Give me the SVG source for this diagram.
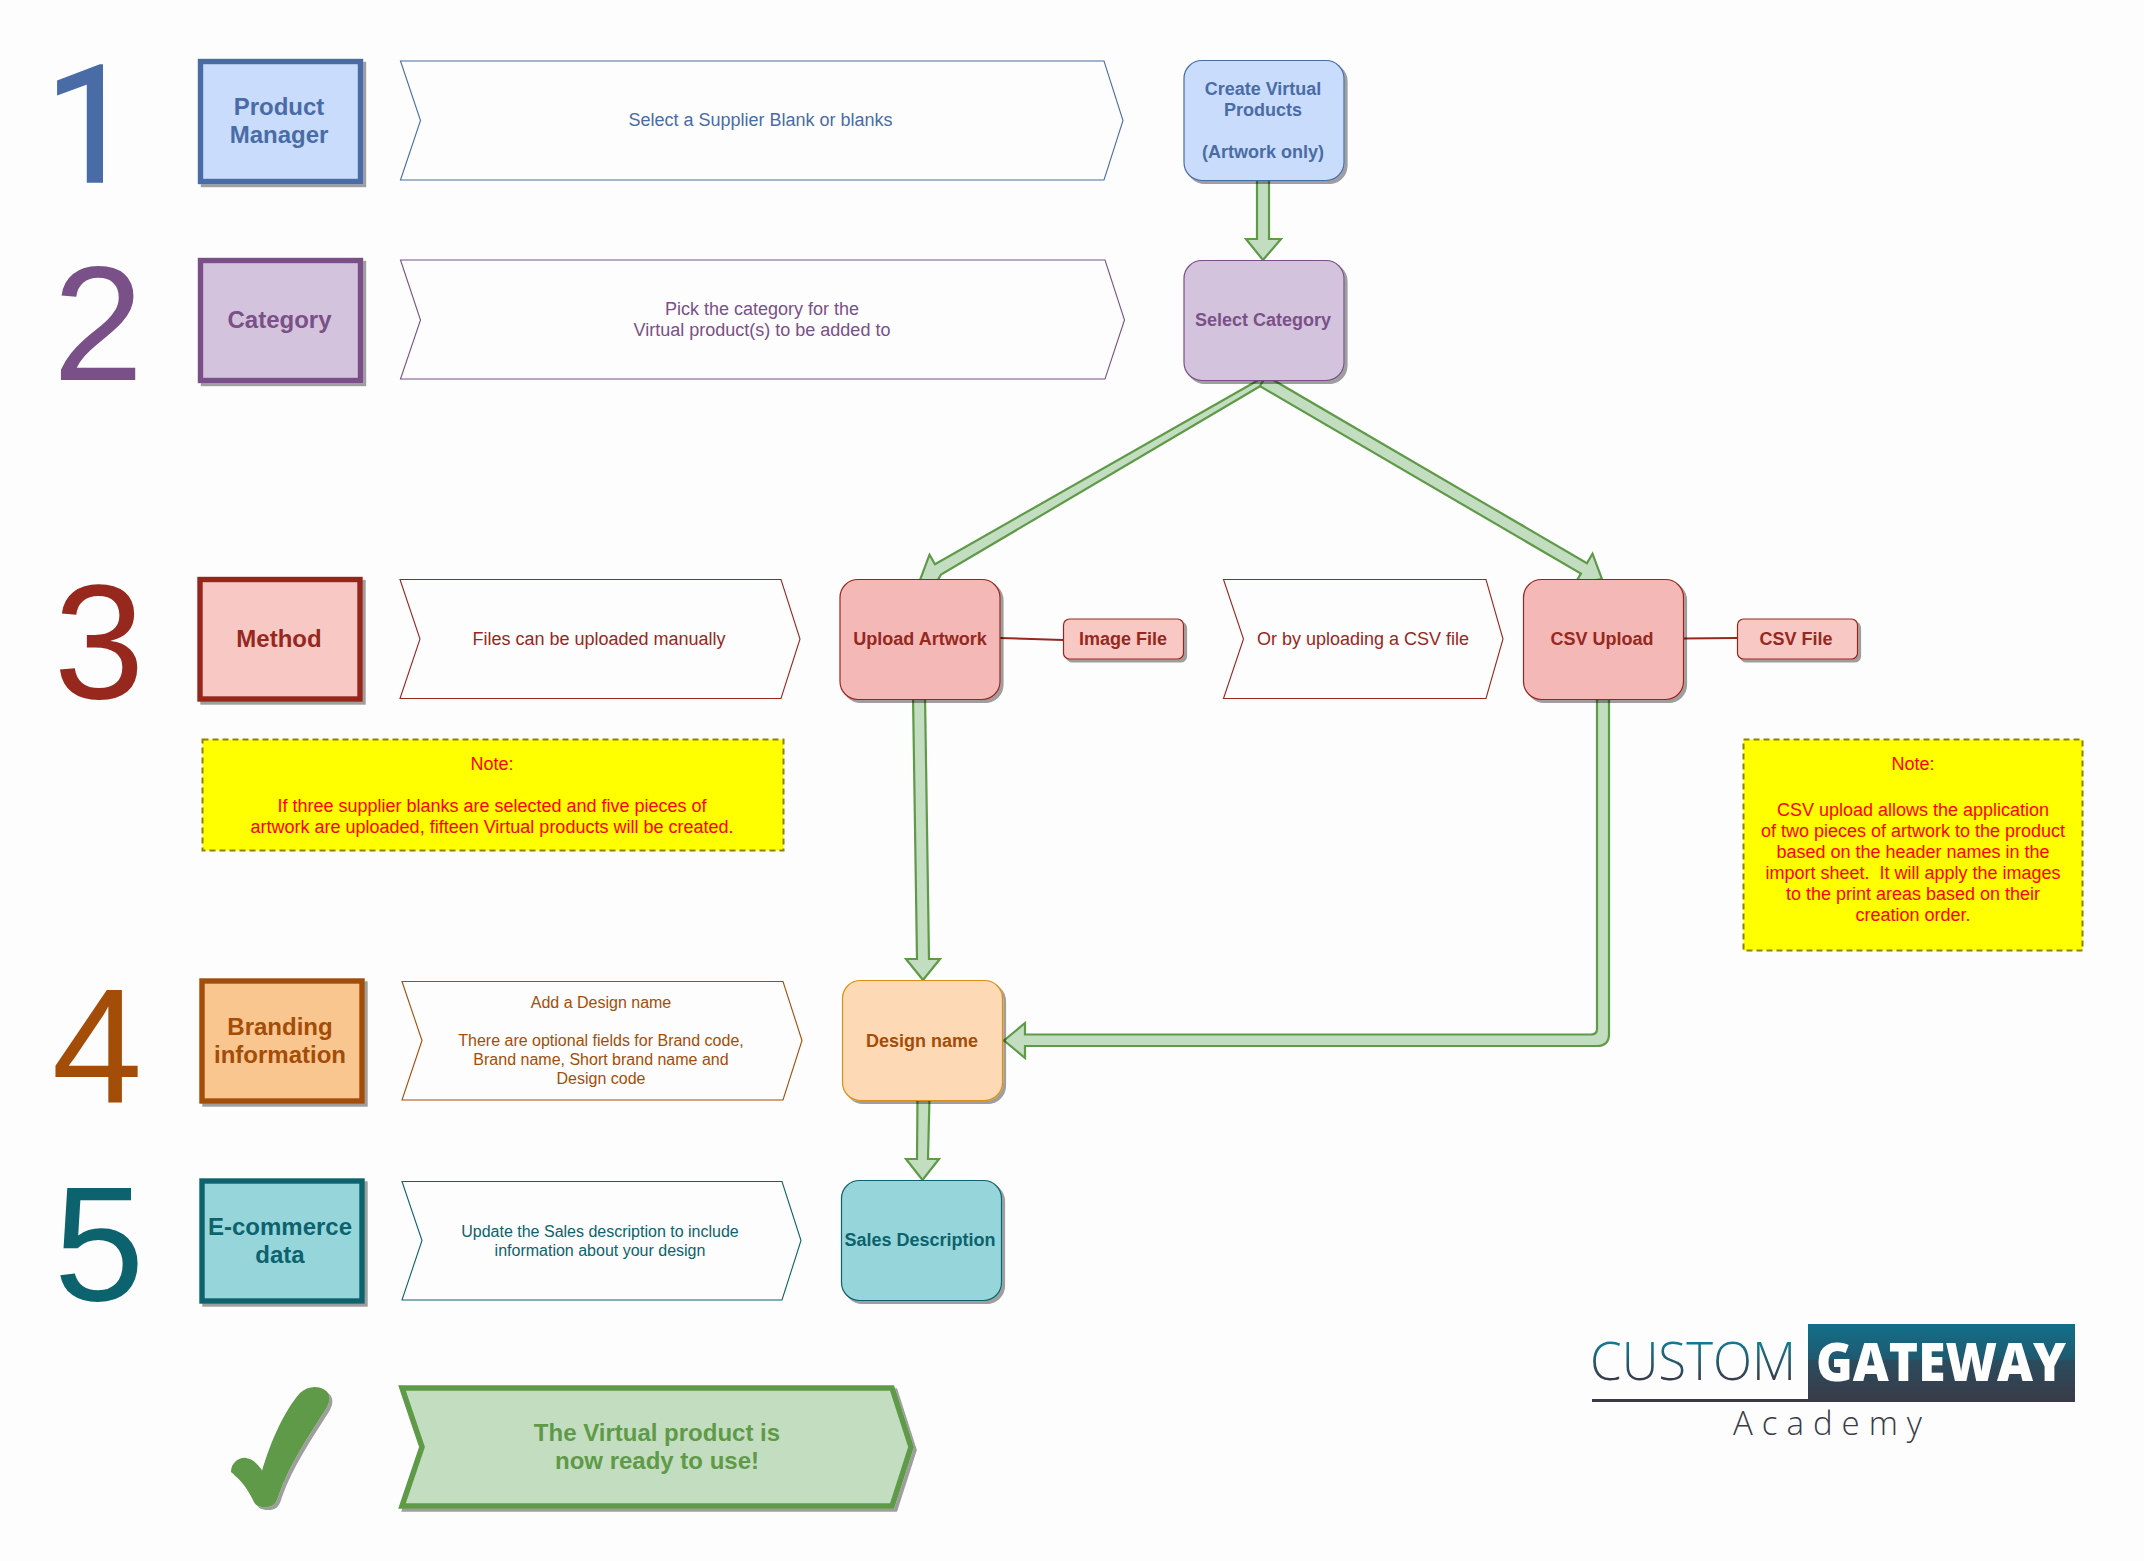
<svg xmlns="http://www.w3.org/2000/svg" width="2144" height="1561" viewBox="0 0 2144 1561">
<style>
text{font-family:"Liberation Sans",Arial,sans-serif;text-anchor:middle}
.b18{font-size:18px;font-weight:bold}.b24{font-size:24px;font-weight:bold}.t18{font-size:18px}.t16{font-size:16px}.n{font-size:18px;fill:#ff0000}
.d{font-size:163px}
.s{fill:#fdfdfd;stroke-width:1.1}
.sq{stroke-width:5.4}
.r{stroke-width:1.2}
.blue{fill:#4a6ca6}.purple{fill:#7a5088}.red{fill:#96281e}.orange{fill:#a34d08}.teal{fill:#0c626d}.green{fill:#5f9a48}
.note{fill:#ffff00;stroke:#8f8000;stroke-width:2;stroke-dasharray:6 4}
.a{fill:#c3ddc0;stroke:#5f9a48;stroke-width:2.2;stroke-linejoin:miter}
.l{fill:none;stroke:#96281e;stroke-width:2}
</style>
<defs>
<filter id="sh" x="-10%" y="-10%" width="125%" height="125%"><feGaussianBlur in="SourceAlpha" stdDeviation="0.7"/><feOffset dx="3" dy="3"/><feComponentTransfer result="o"><feFuncA type="linear" slope="0.38"/></feComponentTransfer><feMerge><feMergeNode in="o"/><feMergeNode in="SourceGraphic"/></feMerge></filter>
<linearGradient id="lg" gradientUnits="userSpaceOnUse" x1="0" y1="1324" x2="0" y2="1402"><stop offset="0" stop-color="#126f89"/><stop offset="0.45" stop-color="#1f5a70"/><stop offset="0.47" stop-color="#2a4c5e"/><stop offset="1" stop-color="#3a3a47"/></linearGradient>
<linearGradient id="lc" gradientUnits="userSpaceOnUse" x1="0" y1="1342" x2="0" y2="1381"><stop offset="0" stop-color="#127a94"/><stop offset="1" stop-color="#3a3a47"/></linearGradient>
</defs>
<rect width="2144" height="1561" fill="#fdfdfd"/>

<g id="connectors">
<polygon class="a" points="1257,175 1257,239 1246,239 1263,260 1281,239 1269,239 1269,175"/>
<polygon class="a" points="1260,386.2 941,574.6 935.3,584.1 920,580 929.5,554.7 935,564.2 1266,375.8"/>
<polygon class="a" points="1266,375.8 1586.9,563.2 1592.5,553.7 1602,579 1575.3,583.1 1580.9,573.6 1260,386.2"/>
<polygon class="a" points="913,695 917,959 906,959 923,980 940,959 929,959 925,695"/>
<path class="a" d="M1597 695V1029Q1597 1034.5 1591 1034.5H1025V1023L1004 1040.5L1025 1058V1046H1597Q1609 1046 1609 1034V695Z"/>
<polygon class="a" points="917.500,1097 917,1159 906,1159 922.500,1180 939,1159 928,1159 929.500,1097"/>
<line class="l" x1="1000" y1="638" x2="1063" y2="640"/>
<line class="l" x1="1683" y1="638.500" x2="1737" y2="638"/>
</g>

<g id="num1"><text class="d blue" x="90" y="182" stroke="#4a6ca6" stroke-width="1.5" style="font-family:Roboto,'Liberation Sans',sans-serif">1</text></g>
<g id="num2"><text class="d purple" x="98" y="380">2</text></g>
<g id="num3"><text class="d red" x="99" y="698">3</text></g>
<g id="num4"><text class="d orange" x="97" y="1102">4</text></g>
<g id="num5"><text class="d teal" x="99" y="1300">5</text></g>

<g id="productManager"><rect class="sq" x="200.500" y="61.500" width="160" height="120" fill="#c9dcfb" stroke="#4a6ca6" filter="url(#sh)"/><text class="b24 blue" x="279" y="115">Product</text><text class="b24 blue" x="279" y="143">Manager</text></g>
<g id="category"><rect class="sq" x="200.500" y="260.500" width="160" height="120" fill="#d4c3dc" stroke="#7a5088" filter="url(#sh)"/><text class="b24 purple" x="279.500" y="328">Category</text></g>
<g id="method"><rect class="sq" x="200" y="579.500" width="160" height="119.500" fill="#f8c8c4" stroke="#96281e" filter="url(#sh)"/><text class="b24 red" x="279" y="647">Method</text></g>
<g id="branding"><rect class="sq" x="202" y="981" width="160" height="120" fill="#f9c68f" stroke="#a34d08" filter="url(#sh)"/><text class="b24 orange" x="280" y="1035">Branding</text><text class="b24 orange" x="280" y="1063">information</text></g>
<g id="ecommerce"><rect class="sq" x="202" y="1181" width="160" height="120" fill="#96d6db" stroke="#0c626d" filter="url(#sh)"/><text class="b24 teal" x="280" y="1235">E-commerce</text><text class="b24 teal" x="280" y="1263">data</text></g>

<g id="step1"><polygon class="s" stroke="#4a6ca6" points="400.500,61 1104,61 1123,120.500 1104,180 400.500,180 420.500,120.500"/><text class="t18 blue" x="760.500" y="125.500">Select a Supplier Blank or blanks</text></g>
<g id="step2"><polygon class="s" stroke="#7a5088" points="400.500,260 1105,260 1124.500,320 1105,379 400.500,379 420.500,320"/><text class="t18 purple" x="762" y="315">Pick the category for the</text><text class="t18 purple" x="762" y="336">Virtual product(s) to be added to</text></g>
<g id="step3a"><polygon class="s" stroke="#96281e" points="400,579.500 781,579.500 800,639 781,698.500 400,698.500 420,639"/><text class="t18 red" x="599" y="644.500">Files can be uploaded manually</text></g>
<g id="step3b"><polygon class="s" stroke="#96281e" points="1223.500,579.500 1486,579.500 1503,639 1486,698.500 1223.500,698.500 1243.500,639"/><text class="t18 red" x="1363" y="644.500">Or by uploading a CSV file</text></g>
<g id="step4"><polygon class="s" stroke="#a34d08" points="402,981.500 783,981.500 802,1040.500 783,1100 402,1100 422,1040.500"/><text class="t16 orange" x="601" y="1008">Add a Design name</text><text class="t16 orange" x="601" y="1046">There are optional fields for Brand code,</text><text class="t16 orange" x="601" y="1065">Brand name, Short brand name and</text><text class="t16 orange" x="601" y="1084">Design code</text></g>
<g id="step5"><polygon class="s" stroke="#0c626d" points="402,1181.500 782,1181.500 801,1240.500 782,1300 402,1300 422,1240.500"/><text class="t16 teal" x="600" y="1237">Update the Sales description to include</text><text class="t16 teal" x="600" y="1256">information about your design</text></g>

<g id="createVirtual"><rect class="r" x="1184" y="60.500" width="160" height="120" rx="18" fill="#c9dcfb" stroke="#4a6ca6" filter="url(#sh)"/><text class="b18 blue" x="1263" y="95">Create Virtual</text><text class="b18 blue" x="1263" y="116">Products</text><text class="b18 blue" x="1263" y="158">(Artwork only)</text></g>
<g id="selectCategory"><rect class="r" x="1184" y="260.500" width="160" height="120" rx="18" fill="#d4c3dc" stroke="#7a5088" filter="url(#sh)"/><text class="b18 purple" x="1263" y="326">Select Category</text></g>
<g id="uploadArtwork"><rect class="r" x="840" y="579.500" width="160" height="120" rx="18" fill="#f4b8b6" stroke="#96281e" filter="url(#sh)"/><text class="b18 red" x="920" y="645">Upload Artwork</text></g>
<g id="imageFile"><rect class="r" x="1063.500" y="619" width="120" height="40" rx="6" fill="#f8c8c4" stroke="#96281e" filter="url(#sh)"/><text class="b18 red" x="1123" y="645">Image File</text></g>
<g id="csvUpload"><rect class="r" x="1523.500" y="579.500" width="160" height="120" rx="18" fill="#f4b8b6" stroke="#96281e" filter="url(#sh)"/><text class="b18 red" x="1602" y="645">CSV Upload</text></g>
<g id="csvFile"><rect class="r" x="1737.500" y="619" width="120" height="40" rx="6" fill="#f8c8c4" stroke="#96281e" filter="url(#sh)"/><text class="b18 red" x="1796" y="645">CSV File</text></g>
<g id="designName"><rect class="r" x="842.500" y="980.500" width="160" height="120" rx="18" fill="#fdd9b5" stroke="#d98f12" filter="url(#sh)"/><text class="b18 orange" x="922" y="1047">Design name</text></g>
<g id="salesDescription"><rect class="r" x="841.500" y="1180.500" width="160" height="120" rx="18" fill="#96d6db" stroke="#0c626d" filter="url(#sh)"/><text class="b18 teal" x="920" y="1246">Sales Description</text></g>

<g id="note1"><rect class="note" x="202.500" y="739.500" width="581" height="111"/><text class="n" x="492" y="769.500">Note:</text><text class="n" x="492" y="811.500">If three supplier blanks are selected and five pieces of</text><text class="n" x="492" y="832.500">artwork are uploaded, fifteen Virtual products will be created.</text></g>
<g id="note2"><rect class="note" x="1743.500" y="739.500" width="339" height="211"/><text class="n" x="1913" y="769.500">Note:</text><text class="n" x="1913" y="815.500">CSV upload allows the application</text><text class="n" x="1913" y="836.500">of two pieces of artwork to the product</text><text class="n" x="1913" y="857.500">based on the header names in the</text><text class="n" x="1913" y="878.500" xml:space="preserve">import sheet.  It will apply the images</text><text class="n" x="1913" y="899.500">to the print areas based on their</text><text class="n" x="1913" y="920.500">creation order.</text></g>

<g id="check"><path d="M231 1472C231 1462 240 1457 246 1458C254 1459 259 1466 262 1471C271 1440 285 1410 300 1393C307 1386 318 1385 325 1390C331 1394 330 1401 327 1407C308 1437 289 1465 279 1494C276 1505 272 1507 265 1507C258 1507 255 1505 253 1500C247 1488 241 1480 231 1472Z" fill="#5f9a48" filter="url(#sh)"/></g>
<g id="ready"><polygon points="402,1388 892,1388 911,1447 892,1506 402,1506 422,1447" fill="#c3ddc0" stroke="#5f9a48" stroke-width="5.500" filter="url(#sh)"/><text class="b24 green" x="657" y="1441">The Virtual product is</text><text class="b24 green" x="657" y="1469">now ready to use!</text></g>

<g id="logo">
<rect x="1808" y="1324" width="267" height="78" fill="url(#lg)"/>
<rect x="1592" y="1399" width="216" height="3" fill="#3a3a47"/>
<text x="1693" y="1380" style="font-family:'Open Sans','Noto Sans',sans-serif;font-weight:300;font-size:53px;fill:url(#lc)" textLength="206" lengthAdjust="spacingAndGlyphs">CUSTOM</text>
<text x="1941" y="1381" style="font-family:'Open Sans','Noto Sans',sans-serif;font-weight:800;font-size:53px;fill:#ffffff" textLength="250" lengthAdjust="spacingAndGlyphs">GATEWAY</text>
<text x="1832" y="1435" style="font-family:'Open Sans','Noto Sans',sans-serif;font-weight:300;font-size:33px;fill:#3a3a47;letter-spacing:9px">Academy</text>
</g>
</svg>
